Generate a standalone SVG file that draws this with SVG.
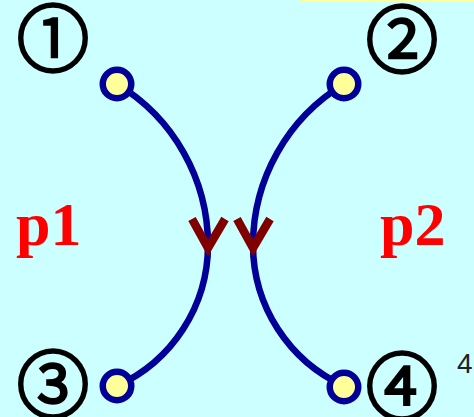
<svg xmlns="http://www.w3.org/2000/svg" width="474" height="417" viewBox="0 0 474 417">
<style>
.num{font-family:"Noto Sans CJK JP","Noto Sans CJK SC",sans-serif;font-size:72px;font-weight:300;fill:#000;stroke:#000;stroke-width:3.4;text-anchor:middle}
.lbl{font-family:"Liberation Serif",serif;font-size:62px;font-weight:bold;fill:#FF0000}
.curve{fill:none;stroke:#000099;stroke-width:6.5}
.arrow{fill:none;stroke:#800000;stroke-width:8.5;stroke-linejoin:miter}
.dot{fill:#FFFF99;stroke:#000099;stroke-width:6.5}
</style>
<rect x="0" y="0" width="474" height="417" fill="#CCFFFF"/>
<rect x="299" y="0" width="175" height="1.5" fill="#FFFF99"/>
<g id="connectors">
<path class="curve" d="M117,84 A188,188 0 0 1 208,245 A155,155 0 0 1 117,386"/>
<path class="curve" d="M344,84 A188,188 0 0 0 253,245 A155,155 0 0 0 344,386"/>
<path class="arrow" d="M192,219 L208,248 L225,219"/>
<path class="arrow" d="M237,219 L253,248 L270,219"/>
</g>
<g id="n1"><circle class="dot" cx="117" cy="84" r="14.25"/><text class="num" x="53" y="65">①</text></g>
<g id="n2"><circle class="dot" cx="344" cy="84" r="14.25"/><text class="num" x="402" y="66">②</text></g>
<g id="n3"><circle class="dot" cx="117" cy="386" r="14.25"/><text class="num" x="53" y="411">③</text></g>
<g id="n4"><circle class="dot" cx="344" cy="387" r="14.25"/><text class="num" x="402" y="413">④</text></g>
<g id="p1"><text class="lbl" x="16" y="245">p1</text></g>
<g id="p2"><text class="lbl" x="380" y="245">p2</text></g>
<text x="457" y="373" font-family="Liberation Sans,Arial,sans-serif" font-size="28" fill="#222">4</text>
</svg>
